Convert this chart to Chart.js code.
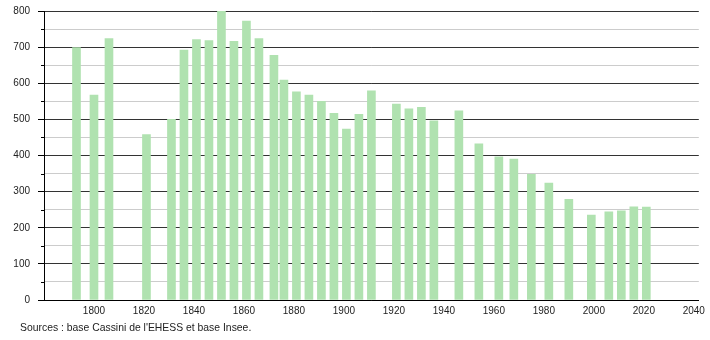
<!DOCTYPE html>
<html>
<head>
<meta charset="utf-8">
<script src="https://cdn.jsdelivr.net/npm/chart.js@4/dist/chart.umd.min.js"></script>
<style>
  body { margin: 0; background: #fff; }
  #wrap { position: relative; width: 710px; height: 340px; }
  #source {
    position: absolute; left: 20px; top: 322px;
    font: 10.4px "Liberation Sans", Arial, sans-serif; color: #222;
  }
</style>
</head>
<body>
<div id="wrap">
  <canvas id="popChart" width="710" height="340"></canvas>
  <div id="source">Sources : base Cassini de l'EHESS et base Insee.</div>
</div>
<script>
// Census years and population
const years = [1793, 1800, 1806, 1821, 1831, 1836, 1841, 1846, 1851, 1856, 1861, 1866,
  1872, 1876, 1881, 1886, 1891, 1896, 1901, 1906, 1911, 1921, 1926, 1931, 1936,
  1946, 1954, 1962, 1968, 1975, 1982, 1990, 1999, 2006, 2011, 2016, 2021];
const population = [699, 567, 724, 458, 500, 692, 721, 718, 800, 716, 772, 724,
  677, 609, 576, 567, 550, 517, 473, 514, 579, 542, 529, 533, 496,
  524, 432, 396, 390, 348, 324, 279, 235, 244, 247, 258, 257];
const xTickLabels = [1800, 1820, 1840, 1860, 1880, 1900, 1920, 1940, 1960, 1980, 2000, 2020, 2040];

// short ticks for the 50s on the y axis
const minorTicks = {
  id: "minorTicks",
  afterDraw(chart) {
    const y = chart.scales.y;
    const ctx = chart.ctx;
    ctx.save();
    ctx.strokeStyle = "#000";
    ctx.lineWidth = 1;
    y.ticks.forEach(function (t) {
      if (t.value % 100 !== 0) {
        const py = Math.round(y.getPixelForValue(t.value)) + 0.5;
        ctx.beginPath();
        ctx.moveTo(y.right - 3, py);
        ctx.lineTo(y.right, py);
        ctx.stroke();
      }
    });
    ctx.restore();
  },
};

const ctx = document.getElementById("popChart").getContext("2d");
new Chart(ctx, {
  type: "bar",
  data: {
    datasets: [
      {
        data: years.map(function (yr, i) {
          return { x: yr, y: population[i] };
        }),
        backgroundColor: "#b0e2b0",
        borderWidth: 0,
        barThickness: 8,
      },
    ],
  },
  options: {
    responsive: false,
    animation: false,
    layout: { padding: { top: 11, right: 10, left: 0, bottom: 0 } },
    plugins: {
      legend: { display: false },
      tooltip: { enabled: false },
    },
    scales: {
      x: {
        type: "linear",
        offset: false,
        min: 1780,
        max: 2042,
        afterBuildTicks: function (scale) {
          scale.ticks = xTickLabels.map(function (v) {
            return { value: v };
          });
        },
        afterFit: function (scale) {
          scale.height = 40;
        },
        grid: { display: false, drawTicks: false, offset: false },
        border: { display: true, color: "#000", width: 1 },
        ticks: {
          padding: 5,
          maxRotation: 0,
          color: "#222",
          font: { family: "Liberation Sans", size: 10 },
          callback: function (v) {
            return String(v);
          },
        },
      },
      y: {
        min: 0,
        max: 800,
        afterFit: function (scale) {
          scale.width = 44;
          scale.paddingTop = 0;
          scale.paddingBottom = 0;
        },
        grid: {
          color: function (c) {
            return c.tick.value % 100 === 0 ? "#333" : "#cccccc";
          },
          tickColor: function (c) {
            return c.tick.value % 100 === 0 ? "#000" : "rgba(0,0,0,0)";
          },
          tickLength: 6,
        },
        border: { display: true, color: "#000", width: 1 },
        ticks: {
          stepSize: 50,
          padding: 8,
          color: "#222",
          font: { family: "Liberation Sans", size: 10 },
          callback: function (v) {
            return v % 100 === 0 ? v : "";
          },
        },
      },
    },
  },
  plugins: [minorTicks],
});
</script>
</body>
</html>
